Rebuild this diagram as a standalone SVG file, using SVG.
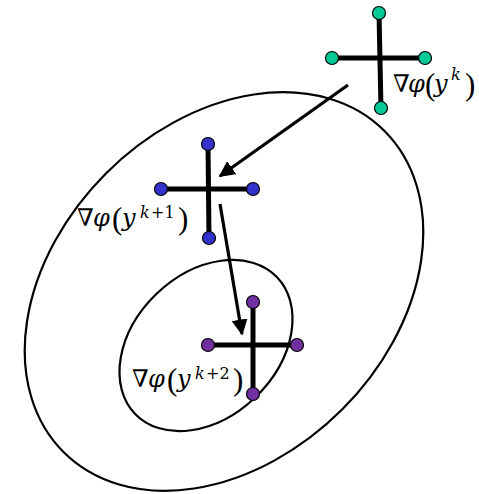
<svg xmlns="http://www.w3.org/2000/svg" width="479" height="494" viewBox="0 0 479 494">
<style>
.contour{fill:none;stroke:#000;stroke-width:2.2}
.bar{stroke:#000;stroke-width:5;stroke-linecap:butt}
.dot{stroke:#000;stroke-width:1.2}
.g{fill:#00C896}
.b{fill:#3333CC}
.p{fill:#7030A0}
.arrow{stroke:#000;stroke-width:3.2;fill:none}
.lbl{font-family:"DejaVu Serif","Liberation Serif",serif;font-size:24px;fill:#000}
.it{font-style:italic}
.par{font-size:31px;font-family:"Liberation Serif",serif}
.sup{font-size:16px}
</style>
<defs>
<marker id="ah" viewBox="0 0 10 10" refX="9" refY="5" markerWidth="5" markerHeight="5" orient="auto" markerUnits="strokeWidth">
<path d="M0,0 L10,5 L0,10 z" fill="#000"/>
</marker>
</defs>
<g id="contours">
<ellipse class="contour" cx="224" cy="291.5" rx="227" ry="167" transform="rotate(-45 224 291.5)"/>
<ellipse class="contour" cx="206" cy="345.5" rx="98.5" ry="71.5" transform="rotate(-44 206 345.5)"/>
</g>
<g id="connectors">
<line class="arrow" x1="348" y1="85" x2="220" y2="176" marker-end="url(#ah)"/>
<line class="arrow" x1="220" y1="204" x2="242" y2="334" marker-end="url(#ah)"/>
</g>
<g id="node-k">
<line class="bar" x1="332" y1="58" x2="425" y2="58"/>
<line class="bar" x1="379" y1="13" x2="381" y2="109"/>
<circle class="dot g" cx="379" cy="13" r="6.5"/>
<circle class="dot g" cx="332" cy="58" r="6.5"/>
<circle class="dot g" cx="425" cy="58" r="6.5"/>
<circle class="dot g" cx="381" cy="108" r="6.5"/>
<text class="lbl" y="92"><tspan x="393">∇</tspan><tspan class="it" x="408">φ</tspan><tspan class="par" x="425" y="95">(</tspan><tspan class="it" x="434" y="92">y</tspan><tspan class="sup it" x="451" y="80">k</tspan><tspan class="par" x="465" y="95">)</tspan></text>
</g>
<g id="node-k1">
<line class="bar" x1="161" y1="189" x2="253" y2="189"/>
<line class="bar" x1="208" y1="144" x2="209" y2="238"/>
<circle class="dot b" cx="208" cy="144" r="6.5"/>
<circle class="dot b" cx="161" cy="189" r="6.5"/>
<circle class="dot b" cx="253" cy="189" r="6.5"/>
<circle class="dot b" cx="209" cy="238" r="6.5"/>
<text class="lbl" y="226"><tspan x="77">∇</tspan><tspan class="it" x="93">φ</tspan><tspan class="par" x="112" y="229">(</tspan><tspan class="it" x="122" y="226">y</tspan><tspan class="sup it" x="140" y="218">k</tspan><tspan class="sup" x="151">+1</tspan><tspan class="par" x="178" y="229">)</tspan></text>
</g>
<g id="node-k2">
<line class="bar" x1="208" y1="345" x2="297" y2="345"/>
<line class="bar" x1="253" y1="302" x2="253" y2="394"/>
<circle class="dot p" cx="253" cy="302" r="6.5"/>
<circle class="dot p" cx="208" cy="345" r="6.5"/>
<circle class="dot p" cx="297" cy="345" r="6.5"/>
<circle class="dot p" cx="253" cy="394" r="6.5"/>
<text class="lbl" y="387"><tspan x="132">∇</tspan><tspan class="it" x="148">φ</tspan><tspan class="par" x="167" y="390">(</tspan><tspan class="it" x="177" y="387">y</tspan><tspan class="sup it" x="195" y="379">k</tspan><tspan class="sup" x="206">+2</tspan><tspan class="par" x="233" y="390">)</tspan></text>
</g>
</svg>
